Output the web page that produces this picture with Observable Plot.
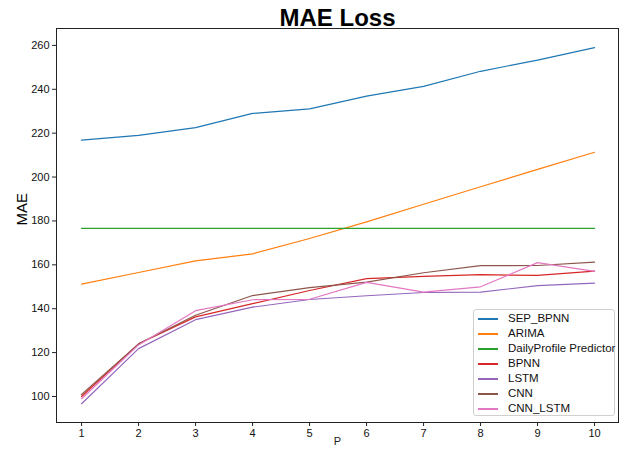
<!DOCTYPE html>
<html>
<head>
<meta charset="utf-8">
<script src="https://cdn.jsdelivr.net/npm/d3@7"></script>
<script src="https://cdn.jsdelivr.net/npm/@observablehq/plot@0.6"></script>
<style>
  body { margin: 0; background: #fff; font-family: "Liberation Sans", Arial, sans-serif; }
  #wrap { position: relative; width: 628px; height: 453px; }
  #legend { position: absolute; left: 473px; top: 309px; width: 142px; height: 107px;
    border: 1px solid #d0d0d0; border-radius: 3px; background: rgba(255,255,255,0.85);
    box-sizing: border-box; padding-top: 1px; }
  .row { display: flex; align-items: flex-start; height: 15px; line-height: 15px; font-size: 11.5px; color: #111; white-space: nowrap; }
  .sw { flex: none; width: 20px; height: 2px; margin-top: 7px; margin-left: 4px; margin-right: 10px; }
</style>
</head>
<body>
<div id="wrap"><div id="legend"></div></div>
<script>
const P = [1, 2, 3, 4, 5, 6, 7, 8, 9, 10];
const seriesNames = ["SEP_BPNN", "ARIMA", "DailyProfile Predictor", "BPNN", "LSTM", "CNN", "CNN_LSTM"];
const colors = ["#1f77b4", "#ff7f0e", "#2ca02c", "#d62728", "#9467bd", "#8c564b", "#e377c2"];
const SEP_BPNN = [216.8, 219.0, 222.5, 229.0, 231.1, 236.9, 241.3, 248.2, 253.3, 259.0];
const ARIMA = [151.2, 156.5, 161.8, 165.0, 172.0, 179.6, 187.6, 195.6, 203.5, 211.3];
const DailyProfile = [176.6, 176.6, 176.6, 176.6, 176.6, 176.6, 176.6, 176.6, 176.6, 176.6];
const BPNN = [100.0, 124.0, 136.3, 142.3, 148.3, 153.7, 154.7, 155.5, 155.2, 157.1];
const LSTM = [96.7, 121.8, 135.0, 140.7, 144.2, 145.9, 147.4, 147.6, 150.5, 151.7];
const CNN = [100.9, 124.0, 137.0, 146.0, 149.6, 152.1, 156.4, 159.6, 159.7, 161.2];
const CNN_LSTM = [99.0, 123.5, 139.1, 144.1, 144.3, 152.0, 147.6, 150.0, 161.0, 157.0];
const yTicks = [100, 120, 140, 160, 180, 200, 220, 240, 260];

const valueArrays = [SEP_BPNN, ARIMA, DailyProfile, BPNN, LSTM, CNN, CNN_LSTM];
const rows = [];
valueArrays.forEach((arr, i) => arr.forEach((v, j) => rows.push({series: seriesNames[i], P: P[j], v})));

const chart = Plot.plot({
  width: 628,
  height: 453,
  marginTop: 28,
  marginBottom: 31,
  marginLeft: 56,
  marginRight: 10,
  style: {fontFamily: "'Liberation Sans', Arial, sans-serif", fontSize: "11px", color: "#111"},
  x: {domain: [0.56, 10.42], ticks: P, tickFormat: d => String(d)},
  y: {domain: [88.15, 267.7], ticks: yTicks},
  color: {domain: seriesNames, range: colors},
  marks: [
    Plot.line(rows, {x: "P", y: "v", z: "series", stroke: "series", strokeWidth: 1.2}),
    Plot.frame({stroke: "#222", strokeWidth: 1}),
    Plot.axisX({ticks: P, tickSize: 4, tickPadding: 3, label: null, stroke: "#222"}),
    Plot.axisY({ticks: yTicks, tickSize: 4, tickPadding: 3, label: null, stroke: "#222"}),
    Plot.text(["MAE Loss"], {frameAnchor: "top", dy: -10, lineAnchor: "middle", fontSize: 24, fontWeight: "bold", fill: "#000"}),
    Plot.text(["MAE"], {frameAnchor: "left", dx: -34, rotate: -90, fontSize: 15, fill: "#000"}),
    Plot.text(["P"], {frameAnchor: "bottom", dy: 22, fontSize: 11, fill: "#222"})
  ]
});
document.getElementById("wrap").prepend(chart);

const legend = document.getElementById("legend");
seriesNames.forEach((name, i) => {
  const r = document.createElement("div");
  r.className = "row";
  const s = document.createElement("div");
  s.className = "sw";
  s.style.background = colors[i];
  const t = document.createElement("span");
  t.textContent = name;
  r.append(s, t);
  legend.append(r);
});
</script>
</body>
</html>
